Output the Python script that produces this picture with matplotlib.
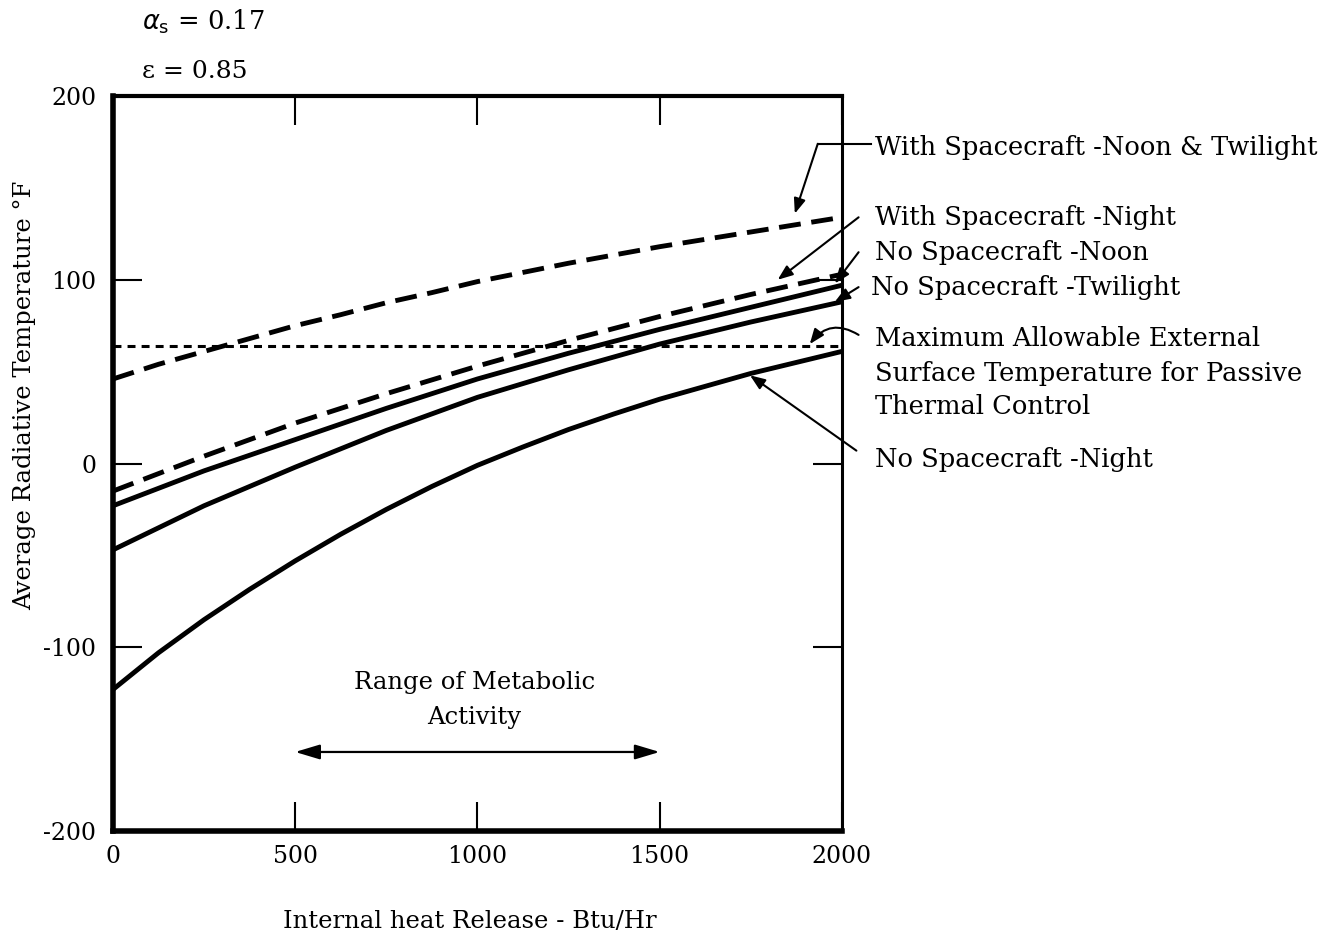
import matplotlib
matplotlib.use("Agg")
import matplotlib.pyplot as plt

# ---- data ----
heat = [0, 125, 250, 375, 500, 625, 750, 875, 1000,
        1125, 1250, 1375, 1500, 1625, 1750, 1875, 2000]
with_sc_noon_twilight = [46, 54, 61, 68, 75, 81, 87.5, 93, 99,
                         104, 109, 113.5, 118, 122, 126, 130, 134]
with_sc_night = [-15, -5.5, 4, 13, 22, 30, 38, 45.5, 53,
                 60, 67, 73.5, 80, 86, 92, 97.5, 103]
no_sc_noon = [-23, -13.5, -4, 4.5, 13, 21.5, 30, 38, 46,
              53, 60, 66.5, 73, 79, 85, 91, 97]
no_sc_twilight = [-47, -35, -23, -12.5, -2, 8, 18, 27, 36,
                  43.5, 51, 58, 65, 71, 77, 82.5, 88]
no_sc_night = [-123, -103, -85, -68.5, -53, -38.5, -25, -12.5, -1,
               9, 18.5, 27, 35, 42, 49, 55, 61]
max_allowable = 64
metabolic_range = [500, 1500]

xticks = [0, 500, 1000, 1500, 2000]
yticks = [-200, -100, 0, 100, 200]
ytick_labels = ["-200", "-100", "0", "100", "200"]

plt.rcParams['font.family'] = ['DejaVu Serif']

fig = plt.figure(figsize=(13.32, 9.36), dpi=100)
ax = fig.add_axes([0.0848, 0.1122, 0.5472, 0.7852])

lw = 3.5
ax.plot(heat, with_sc_noon_twilight, color='black', lw=lw, dashes=(4.5, 2.2))
ax.plot(heat, with_sc_night, color='black', lw=lw, dashes=(4.5, 2.2))
ax.plot(heat, no_sc_noon, color='black', lw=lw)
ax.plot(heat, no_sc_twilight, color='black', lw=lw)
ax.plot(heat, no_sc_night, color='black', lw=lw)
ax.plot([heat[0], heat[-1]], [max_allowable, max_allowable], color='black',
        lw=2.2, dashes=(2.6, 2.0))

ax.set_xlim(0, 2000)
ax.set_ylim(-200, 200)
ax.set_xticks(xticks)
ax.set_yticks(yticks)
ax.set_yticklabels(ytick_labels)
ax.tick_params(direction='in', length=21, width=1.5, labelsize=17,
               top=True, right=True)
ax.tick_params(axis='x', pad=10)
ax.tick_params(axis='y', pad=12)

ax.spines['left'].set_linewidth(4)
ax.spines['bottom'].set_linewidth(4)
ax.spines['top'].set_linewidth(3)
ax.spines['right'].set_linewidth(2.2)

ax.set_ylabel('Average Radiative Temperature °F', fontsize=17.5)
ax.yaxis.set_label_coords(-0.105, 0.593)
fig.text(470/1332, 1 - 922/936, 'Internal heat Release - Btu/Hr',
         ha='center', va='center', fontsize=17.5)

fig.text(142/1332, 1 - 22/936, r'$\alpha_{\rm s}$ = 0.17', fontsize=18.5,
         ha='left', va='center')
fig.text(142/1332, 1 - 72/936, 'ε = 0.85', fontsize=18, ha='left', va='center')

# Range of metabolic activity
ax.text(992, -119, 'Range of Metabolic', ha='center', va='center', fontsize=17.5)
ax.text(992, -138, 'Activity', ha='center', va='center', fontsize=17.5)
ax.annotate('', xy=(metabolic_range[0], -157), xytext=(metabolic_range[1], -157),
            arrowprops=dict(arrowstyle='<|-|>,head_length=1.5,head_width=0.45',
                            color='black', lw=1.6, shrinkA=0, shrinkB=0))

# Annotations on the right
fs = 18.5
tx = 2090
arrow = dict(arrowstyle='-|>,head_length=0.9,head_width=0.35', color='black',
             lw=1.5, shrinkA=0, shrinkB=0)

ax.text(tx, 172, 'With Spacecraft -Noon & Twilight', fontsize=fs, va='center',
        ha='left', clip_on=False)
ax.plot([2000 + 80, 1934], [174, 174], color='black', lw=1.5, clip_on=False)
ax.annotate('', xy=(1871, 136), xytext=(1934, 174), arrowprops=arrow,
            annotation_clip=False)

ax.text(tx, 134, 'With Spacecraft -Night', fontsize=fs, va='center', ha='left',
        clip_on=False)
ax.annotate('', xy=(1824, 100), xytext=(2046, 134), arrowprops=arrow,
            annotation_clip=False)

ax.text(tx, 115, 'No Spacecraft -Noon', fontsize=fs, va='center', ha='left',
        clip_on=False)
ax.annotate('', xy=(1981, 98), xytext=(2046, 115), arrowprops=arrow,
            annotation_clip=False)

ax.text(2080, 96, 'No Spacecraft -Twilight', fontsize=fs, va='center', ha='left',
        clip_on=False)
ax.annotate('', xy=(1981, 88), xytext=(2046, 96), arrowprops=arrow,
            annotation_clip=False)

ax.text(tx, 68, 'Maximum Allowable External', fontsize=fs, va='center',
        ha='left', clip_on=False)
ax.text(tx, 49, 'Surface Temperature for Passive', fontsize=fs, va='center',
        ha='left', clip_on=False)
ax.text(tx, 31, 'Thermal Control', fontsize=fs, va='center', ha='left',
        clip_on=False)
ax.annotate('', xy=(1912, 65), xytext=(2046, 70),
            arrowprops=dict(arrowstyle='-|>,head_length=0.9,head_width=0.35',
                            color='black', lw=1.5, shrinkA=0, shrinkB=0,
                            connectionstyle='arc3,rad=0.45'),
            annotation_clip=False)

ax.text(tx, 2, 'No Spacecraft -Night', fontsize=fs, va='center', ha='left',
        clip_on=False)
ax.annotate('', xy=(1748, 48), xytext=(2040, 7), arrowprops=arrow,
            annotation_clip=False)

fig.savefig('out.png', dpi=100)
